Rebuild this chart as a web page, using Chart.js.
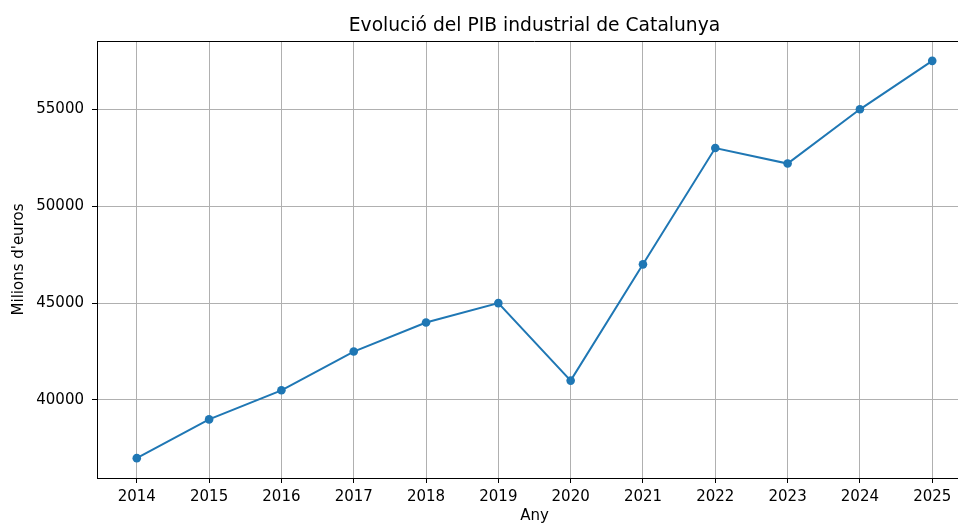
<!DOCTYPE html>
<html>
<head>
<meta charset="utf-8">
<script src="https://cdn.jsdelivr.net/npm/chart.js@4"></script>
<style>
  html, body { margin: 0; padding: 0; background: #fff; overflow: hidden; }
  #wrap { width: 958px; height: 525px; overflow: hidden; }
</style>
</head>
<body>
<div id="wrap"><canvas id="pib" width="980" height="525"></canvas></div>
<script>
// Data
const years = [2014, 2015, 2016, 2017, 2018, 2019, 2020, 2021, 2022, 2023, 2024, 2025];
const pib = [37000, 39000, 40500, 42500, 44000, 45000, 41000, 47000, 53000, 52200, 55000, 57500];
const yTicks = [40000, 45000, 50000, 55000];
const chartTitle = 'Evolució del PIB industrial de Catalunya';

// matplotlib-style 5% margins
const xPad = (years[years.length - 1] - years[0]) * 0.05;
const yPad = (Math.max(...pib) - Math.min(...pib)) * 0.05;

// top spine (right one falls outside the crop) and title centred over the axes
const frame = {
    id: 'frame',
    afterDraw(chart) {
        const a = chart.chartArea, c = chart.ctx;
        c.save();
        c.strokeStyle = '#000';
        c.lineWidth = 1;
        c.beginPath();
        c.moveTo(a.left, a.top + 0.5);
        c.lineTo(a.right, a.top + 0.5);
        c.stroke();
        c.fillStyle = '#000';
        c.font = '18.7px "DejaVu Sans"';
        c.textAlign = 'center';
        c.textBaseline = 'alphabetic';
        c.fillText(chartTitle, (a.left + a.right) / 2, 31);
        c.restore();
    }
};

Chart.defaults.font.family = 'DejaVu Sans';
Chart.defaults.color = '#000';

new Chart(document.getElementById('pib'), {
    type: 'line',
    data: {
        datasets: [{
            data: years.map((y, i) => ({x: y, y: pib[i]})),
            borderColor: '#1f77b4',
            backgroundColor: '#1f77b4',
            borderWidth: 2,
            pointRadius: 4.3,
            pointBorderWidth: 0,
            tension: 0
        }]
    },
    options: {
        responsive: false,
        animation: false,
        devicePixelRatio: 1,
        layout: { padding: { left: 0, right: 8, top: 41, bottom: 0 } },
        plugins: {
            legend: { display: false },
            tooltip: { enabled: false },
            title: { display: false }
        },
        scales: {
            x: {
                type: 'linear',
                min: years[0] - xPad,
                max: years[years.length - 1] + xPad,
                afterBuildTicks: s => { s.ticks = years.map(v => ({value: v})); },
                afterFit: s => { s.height = 47; },
                ticks: { font: { size: 15 }, padding: 5, callback: v => String(v) },
                grid: { color: '#b0b0b0', lineWidth: 1, tickLength: 5, tickColor: '#000' },
                border: { color: '#000', width: 1 },
                title: { display: true, text: 'Any', font: { size: 15 }, padding: { top: 0, bottom: 0 } }
            },
            y: {
                min: Math.min(...pib) - yPad,
                max: Math.max(...pib) + yPad,
                afterBuildTicks: s => { s.ticks = yTicks.map(v => ({value: v})); },
                afterFit: s => { s.width = 97; },
                ticks: { font: { size: 15 }, padding: 8, callback: v => String(v) },
                grid: { color: '#b0b0b0', lineWidth: 1, tickLength: 5, tickColor: '#000' },
                border: { color: '#000', width: 1 },
                title: { display: true, text: "Milions d'euros", font: { size: 15 }, padding: { top: 10, bottom: 0 } }
            }
        }
    },
    plugins: [frame]
});
</script>
</body>
</html>
